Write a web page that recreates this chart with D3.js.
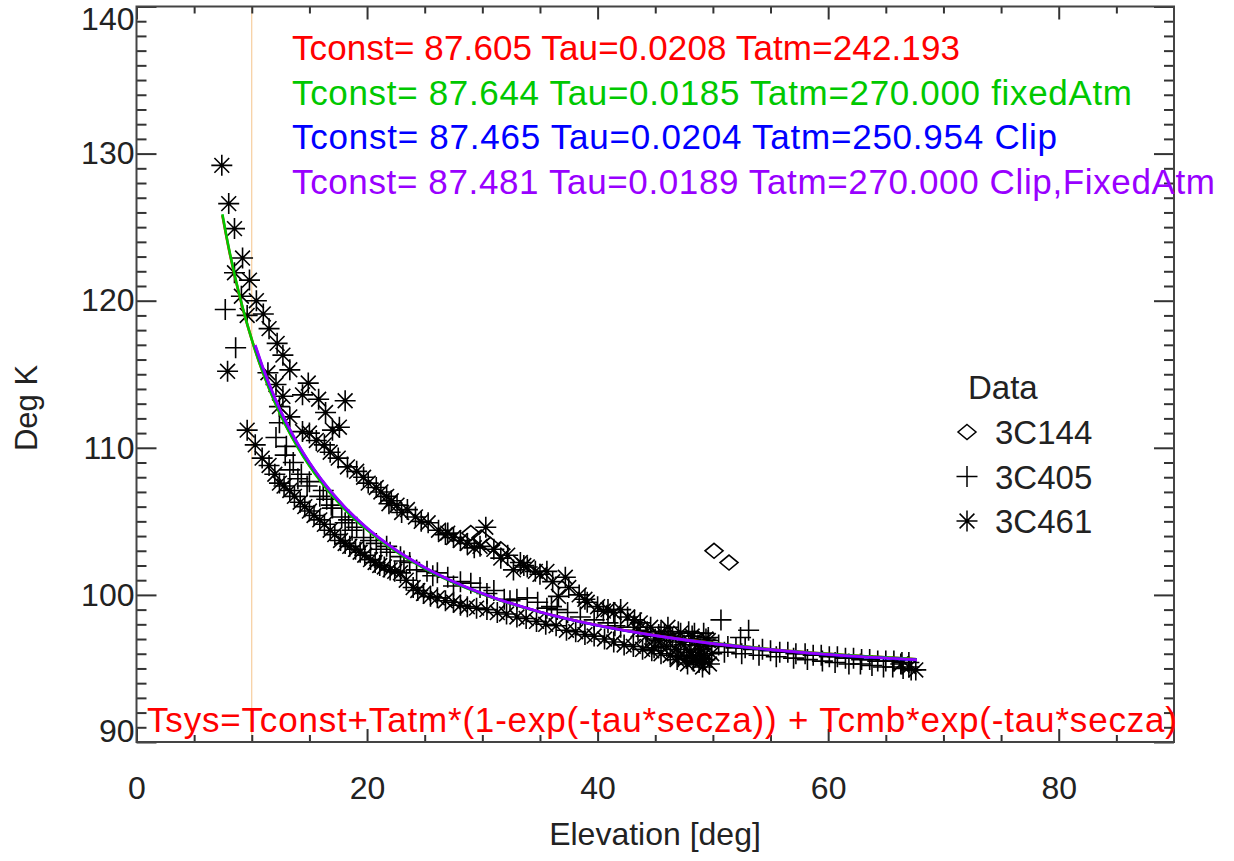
<!DOCTYPE html>
<html>
<head>
<meta charset="utf-8">
<script src="https://cdn.jsdelivr.net/npm/d3@7/dist/d3.min.js"></script>
<style>
body { margin: 0; background: #fff; }
text { font-family: "Liberation Sans", Arial, Helvetica, sans-serif; }
</style>
</head>
<body>
<div id="chart"></div>
<script>
const width = 1234;
const height = 861;

// 3C144 (diamonds)
const el3C144 = [29.0, 29.9, 30.7, 31.6, 50.1, 51.4];
const tsys3C144 = [104.2, 103.9, 103.4, 103.1, 103.0, 102.2];

// 3C405 (plus signs)
const el3C405 = [7.7, 8.6, 12.4, 12.1, 13.0, 12.9, 13.6, 13.3, 14.3, 15.0, 14.8, 16.2, 15.9, 16.5, 17.0,
  17.8, 18.1, 18.7, 19.1, 19.7, 20.3, 20.8, 21.7, 22.0, 22.9, 23.7, 24.3, 25.2, 26.1, 27.0,
  28.1, 29.0, 29.8, 31.0, 31.9, 33.0, 33.9, 34.8, 35.6, 36.5, 37.4, 38.5, 39.7, 40.9, 42.0,
  43.1, 44.3, 45.5, 47.0, 47.9, 48.4, 49.2, 49.6, 50.7, 52.4, 53.1,
  50.5, 51.3, 52.0, 52.8, 53.5, 54.3, 55.0, 55.8, 56.5, 57.2, 58.0, 58.7, 59.4, 60.1, 60.8,
  61.5, 62.2, 62.9, 63.6, 64.3, 65.0, 65.7, 66.4, 67.0,
  51.0, 52.5, 54.0, 55.5, 57.0, 58.2, 59.5, 60.6, 61.8, 62.8, 63.8, 64.8, 65.6, 66.5, 67.2,
  14.0, 16.9, 18.4, 21.2, 23.2, 25.7, 27.5, 30.4, 32.4, 36.0, 41.5, 46.3];
const tsys3C405 = [119.4, 116.8, 111.7, 110.7, 110.1, 109.5, 109.0, 108.5, 108.2, 107.7, 107.4, 107.1, 106.7, 106.5, 105.9,
  105.3, 104.9, 104.4, 104.6, 103.9, 103.7, 103.5, 103.3, 102.9, 102.6, 102.2, 101.7, 101.6, 101.5, 101.2,
  100.9, 100.8, 100.5, 100.3, 99.7, 99.7, 99.8, 99.5, 99.1, 99.0, 98.8, 98.5, 98.3, 98.1, 97.8,
  97.8, 97.5, 97.5, 97.5, 97.5, 97.4, 97.4, 97.1, 98.3, 97.1, 97.6,
  96.6, 96.5, 96.4, 96.4, 96.3, 96.3, 96.2, 96.1, 96.1, 96.0, 96.0, 95.9, 95.9, 95.8, 95.8,
  95.7, 95.7, 95.6, 95.6, 95.5, 95.5, 95.5, 95.4, 95.4,
  96.1, 96.0, 95.9, 95.8, 95.7, 95.6, 95.5, 95.4, 95.3, 95.3, 95.2, 95.1, 95.1, 95.0, 94.9,
  107.9, 106.1, 105.1, 103.1, 102.3, 101.3, 100.6, 100.1, 99.6, 99.2, 97.9, 97.2];

// 3C461 (asterisks)
const el3C461 = [7.4, 8.0, 8.5, 9.2, 8.5, 9.8, 9.1, 10.4, 9.6, 11.0, 11.5, 12.2, 12.7, 13.3, 14.4,
  14.9, 15.8, 16.4, 18.1, 17.0, 17.6,
  11.4, 12.1, 12.7, 12.4, 13.3, 14.4, 15.0, 15.6, 16.3, 16.8, 17.5, 18.3, 19.1, 19.7, 20.1,
  20.8, 21.2, 21.7, 22.1, 22.6, 23.5, 25.3, 26.2, 26.8, 27.5, 28.1, 28.7, 29.8, 30.3, 31.0,
  32.2, 32.7, 33.3, 33.9, 34.6, 35.6, 36.6, 37.2, 37.5, 38.4, 39.1, 40.0, 40.9, 42.0, 42.6,
  43.7, 44.6, 46.1, 47.2,
  7.9, 9.6, 10.3, 10.9, 11.5, 12.0, 12.4, 12.8, 13.3, 13.7, 14.2, 14.6, 15.0, 15.4, 15.9,
  16.3, 16.8, 17.2, 17.7, 18.1, 18.5, 19.0, 19.4, 19.8, 20.3, 20.7, 21.1, 21.5, 22.0, 22.4,
  22.9, 23.4, 24.0, 24.4, 24.9, 25.5, 26.1, 26.8, 27.5, 28.1, 28.7, 29.5, 30.4, 31.3, 32.1,
  33.0, 33.8, 34.7, 35.5, 36.4, 37.3, 38.1, 38.9, 39.7, 40.6, 41.4, 42.3, 43.1, 43.9, 44.7,
  45.5, 46.3, 47.0, 47.7, 48.3, 48.8, 49.3,
  45.3, 46.0, 46.8, 47.5, 48.0, 48.4, 48.9, 49.2, 49.5, 49.7, 49.1, 48.5, 47.8, 49.6,
  44.2, 45.0, 45.8, 46.5, 47.2, 48.2, 48.7, 49.4, 49.9, 43.5, 44.9, 46.9, 48.1, 49.0,
  21.9, 23.0, 24.2, 24.7, 27.0, 29.3, 31.6, 33.6, 35.0, 36.1, 38.9, 40.5, 41.4, 43.2, 45.3,
  66.3, 67.0, 67.6];
const tsys3C461 = [129.2, 126.6, 124.9, 122.9, 121.9, 121.4, 120.3, 120.0, 119.0, 119.1, 118.1, 117.1, 116.3, 115.3, 113.6,
  114.4, 113.3, 112.4, 113.2, 111.2, 111.4,
  115.1, 114.3, 113.5, 112.8, 112.1, 111.1, 111.0, 110.5, 110.2, 109.7, 109.3, 108.7, 108.4, 108.0, 107.6,
  107.3, 107.0, 106.7, 106.4, 106.1, 105.8, 104.9, 104.4, 104.1, 103.9, 103.7, 103.5, 103.3, 104.6, 103.1,
  102.7, 101.7, 102.2, 101.9, 101.6, 101.6, 99.9, 101.2, 100.5, 100.0, 99.5, 99.2, 99.0, 99.0, 98.5,
  98.1, 97.8, 97.8, 97.4,
  115.2, 111.2, 110.2, 109.3, 108.8, 108.2, 107.6, 107.4, 107.1, 106.7, 106.3, 106.0, 105.7, 105.4, 105.1,
  104.8, 104.4, 104.1, 103.7, 103.5, 103.3, 103.1, 102.9, 102.7, 102.4, 102.2, 102.0, 101.9, 101.7, 101.6,
  101.5, 101.0, 100.5, 100.3, 100.1, 99.9, 99.8, 99.6, 99.5, 99.3, 99.2, 99.1, 99.0, 98.8, 98.7,
  98.5, 98.4, 98.2, 98.0, 97.9, 97.6, 97.5, 97.3, 97.2, 97.0, 96.8, 96.6, 96.5, 96.3, 96.2,
  96.0, 95.9, 95.8, 95.7, 95.5, 95.4, 95.6,
  96.9, 96.5, 96.3, 96.6, 96.1, 96.9, 96.3, 95.9, 96.5, 95.3, 95.1, 95.8, 95.3, 96.9,
  97.2, 97.0, 97.3, 97.1, 96.8, 97.2, 96.6, 97.0, 96.0, 97.6, 96.4, 95.6, 95.9, 95.7,
  106.2, 105.6, 105.3, 105.0, 104.2, 103.2, 102.5, 102.0, 101.4, 100.9, 99.7, 98.9, 98.8, 98.3, 97.3,
  95.3, 95.1, 94.9];

// fitted curves
const fitElFull = [7.45, 8, 9, 10, 11, 12, 13, 14, 15, 16, 18, 20, 22, 25, 28, 31, 35, 40, 45, 50, 55, 60, 67.7];
const fitRed = [125.80, 123.55, 120.12, 117.35, 115.04, 113.11, 111.46, 110.04, 108.80, 107.72, 105.90, 104.44,
  103.24, 101.81, 100.69, 99.79, 98.83, 97.93, 97.25, 96.72, 96.31, 95.99, 95.63];
const fitGreen = [125.88, 123.61, 120.15, 117.35, 115.04, 113.10, 111.44, 110.02, 108.78, 107.69, 105.87, 104.42,
  103.22, 101.79, 100.67, 99.77, 98.82, 97.93, 97.24, 96.72, 96.31, 95.99, 95.63];
const fitElClip = [10.3, 11, 12, 13, 14, 15, 16, 18, 20, 22, 25, 28, 31, 35, 40, 45, 50, 55, 60, 67.7];
const fitBlue = [116.93, 115.34, 113.37, 111.69, 110.24, 108.98, 107.88, 106.02, 104.54, 103.32, 101.86, 100.72,
  99.81, 98.84, 97.92, 97.23, 96.69, 96.27, 95.94, 95.58];
const fitPurple = [116.99, 115.39, 113.41, 111.72, 110.27, 109.01, 107.89, 106.04, 104.55, 103.33, 101.87, 100.73,
  99.81, 98.84, 97.93, 97.23, 96.69, 96.28, 95.95, 95.59];

const fitLabels = [
  "Tconst= 87.605 Tau=0.0208 Tatm=242.193",
  "Tconst= 87.644 Tau=0.0185 Tatm=270.000 fixedAtm",
  "Tconst= 87.465 Tau=0.0204 Tatm=250.954 Clip",
  "Tconst= 87.481 Tau=0.0189 Tatm=270.000 Clip,FixedAtm"
];
const fitLabelWidths = [668, 840, 765, 923];
const fitColors = ["#ff0000", "#00c800", "#0000ff", "#9900ff"];
const legendNames = ["3C144", "3C405", "3C461"];
const xMajor = [0, 20, 40, 60, 80];
const yMajor = [90, 100, 110, 120, 130, 140];

const x = d3.scaleLinear().domain([0, 90]).range([136.5, 1174]);
const y = d3.scaleLinear().domain([90, 140]).range([742, 6.5]);

const svg = d3.select("#chart")
  .append("svg")
  .attr("width", width)
  .attr("height", height);

// marker shapes
const starPath = "M0,-10.5V10.5M-10.5,0H10.5M-7.4,-7.4L7.4,7.4M-7.4,7.4L7.4,-7.4";
const plusPath = "M0,-10.5V10.5M-10.5,0H10.5";
const diamondPath = "M0,-7.5L9,0L0,7.5L-9,0Z";

// vertical line at 10 deg
svg.append("line")
  .attr("x1", x(10)).attr("x2", x(10))
  .attr("y1", y(140)).attr("y2", y(90))
  .attr("stroke", "#f5c48a")
  .attr("stroke-width", 1);

function drawPoints(els, ts, path) {
  svg.append("g").selectAll("path")
    .data(els.map((e, i) => [e, ts[i]])).enter()
    .append("path")
    .attr("transform", d => `translate(${x(d[0])},${y(d[1])})`)
    .attr("d", path)
    .attr("fill", "none")
    .attr("stroke", "#000")
    .attr("stroke-width", 1.6);
}

drawPoints(el3C461, tsys3C461, starPath);
drawPoints(el3C405, tsys3C405, plusPath);
drawPoints(el3C144, tsys3C144, diamondPath);

// fit curves
const line = d3.line()
  .x(d => x(d[0]))
  .y(d => y(d[1]))
  .curve(d3.curveMonotoneX);

const fits = [
  [fitElFull, fitRed],
  [fitElFull, fitGreen],
  [fitElClip, fitBlue],
  [fitElClip, fitPurple]
];
fits.forEach((f, i) => {
  svg.append("path")
    .datum(f[0].map((e, j) => [e, f[1][j]]))
    .attr("d", line)
    .attr("fill", "none")
    .attr("stroke", fitColors[i])
    .attr("stroke-width", 2.6);
});

// ticks on all four sides
function ticks(axis, tx, ty) {
  const g = svg.append("g")
    .attr("transform", `translate(${tx},${ty})`)
    .call(axis);
  g.select(".domain").remove();
  g.selectAll("line").attr("stroke", "#333").attr("stroke-width", 2);
}
const xMinor = d3.range(5, 90, 5).filter(v => v % 20 !== 0);
const yMinor = d3.range(91, 140, 1).filter(v => v % 10 !== 0);

ticks(d3.axisTop(x).tickValues(xMajor).tickSize(13).tickFormat(""), 0, y(90));
ticks(d3.axisTop(x).tickValues(xMinor).tickSize(7).tickFormat(""), 0, y(90));
ticks(d3.axisBottom(x).tickValues(xMajor).tickSize(13).tickFormat(""), 0, y(140));
ticks(d3.axisBottom(x).tickValues(xMinor).tickSize(7).tickFormat(""), 0, y(140));
ticks(d3.axisRight(y).tickValues(yMajor).tickSize(20).tickFormat(""), x(0), 0);
ticks(d3.axisRight(y).tickValues(yMinor).tickSize(10).tickFormat(""), x(0), 0);
ticks(d3.axisLeft(y).tickValues(yMajor).tickSize(20).tickFormat(""), x(90), 0);
ticks(d3.axisLeft(y).tickValues(yMinor).tickSize(10).tickFormat(""), x(90), 0);

// frame
svg.append("rect")
  .attr("x", x(0)).attr("y", y(140))
  .attr("width", x(90) - x(0)).attr("height", y(90) - y(140))
  .attr("fill", "none")
  .attr("stroke", "#444")
  .attr("stroke-width", 2);

// tick labels
const xl = svg.append("g")
  .attr("transform", `translate(0,${y(90)})`)
  .call(d3.axisBottom(x).tickValues(xMajor).tickSize(0).tickPadding(34));
xl.select(".domain").remove();
xl.selectAll("text").attr("font-size", 32).attr("fill", "#222")
  .style("font-family", '"Liberation Sans", Arial, sans-serif');

const yl = svg.append("g")
  .attr("transform", `translate(${x(0) - 2},0)`)
  .call(d3.axisLeft(y).tickValues(yMajor).tickSize(0).tickPadding(0));
yl.select(".domain").remove();
yl.selectAll("text").attr("font-size", 32).attr("fill", "#222")
  .style("font-family", '"Liberation Sans", Arial, sans-serif')
  .attr("y", d => d === 140 ? 13 : (d === 90 ? -11 : 0));

// axis titles
svg.append("text")
  .attr("x", 655).attr("y", 845)
  .attr("text-anchor", "middle")
  .attr("font-size", 32).attr("fill", "#222")
  .text("Elevation [deg]");

svg.append("text")
  .attr("transform", "rotate(-90)")
  .attr("x", -408).attr("y", 37)
  .attr("text-anchor", "middle")
  .attr("font-size", 31).attr("fill", "#222")
  .text("Deg K");

// fit parameter labels
svg.append("g").selectAll("text")
  .data(fitLabels).enter()
  .append("text")
  .attr("x", 292)
  .attr("y", (d, i) => 60 + i * 44.5)
  .attr("font-size", 35)
  .attr("textLength", (d, i) => fitLabelWidths[i])
  .attr("lengthAdjust", "spacing")
  .attr("fill", (d, i) => fitColors[i])
  .text(d => d);

svg.append("text")
  .attr("x", 147).attr("y", 732)
  .attr("font-size", 35)
  .attr("textLength", 1030)
  .attr("lengthAdjust", "spacing")
  .attr("fill", "#ff0000")
  .text("Tsys=Tconst+Tatm*(1-exp(-tau*secza)) + Tcmb*exp(-tau*secza)");

// legend
svg.append("text")
  .attr("x", 968).attr("y", 399)
  .attr("font-size", 33).attr("fill", "#222")
  .text("Data");

const legendPaths = [diamondPath, plusPath, starPath];
legendNames.forEach((name, i) => {
  const cy = 432 + i * 44.5;
  svg.append("path")
    .attr("transform", `translate(967,${cy})`)
    .attr("d", legendPaths[i])
    .attr("fill", "none")
    .attr("stroke", "#000")
    .attr("stroke-width", 1.5);
  svg.append("text")
    .attr("x", 995).attr("y", cy + 12)
    .attr("font-size", 33).attr("fill", "#222")
    .text(name);
});
</script>
</body>
</html>
